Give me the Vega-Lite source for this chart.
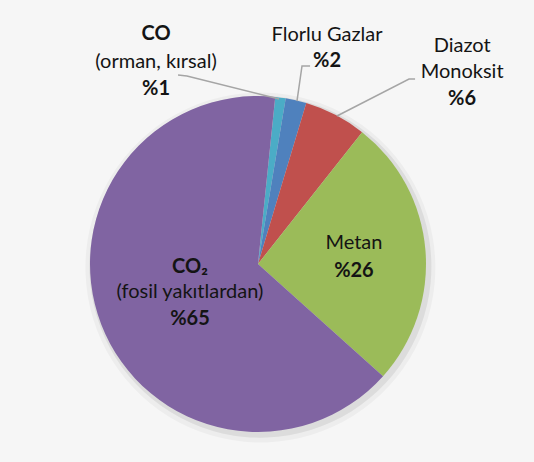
{
  "$schema": "https://vega.github.io/schema/vega-lite/v6.json",
  "width": 534,
  "height": 462,
  "autosize": "none",
  "padding": 0,
  "background": "#f6f6f6",
  "config": {"view": {"stroke": null}},
  "datasets": {
    "slices": [
      {"gaz": "CO (orman, kırsal)", "value": 1, "ord": 1},
      {"gaz": "Florlu Gazlar", "value": 2, "ord": 2},
      {"gaz": "Diazot Monoksit", "value": 6, "ord": 3},
      {"gaz": "Metan", "value": 26, "ord": 4},
      {"gaz": "CO₂ (fosil yakıtlardan)", "value": 65, "ord": 5}
    ],
    "labels": [
      {"text": "CO", "u": -0.607, "v": 1.369, "kind": "head"},
      {"text": "(orman, kırsal)", "u": -0.607, "v": 1.202, "kind": "note"},
      {"text": "%1", "u": -0.607, "v": 1.042, "kind": "head"},
      {"text": "Florlu Gazlar", "u": 0.411, "v": 1.363, "kind": "note"},
      {"text": "%2", "u": 0.411, "v": 1.208, "kind": "head"},
      {"text": "Diazot", "u": 1.215, "v": 1.298, "kind": "note"},
      {"text": "Monoksit", "u": 1.215, "v": 1.143, "kind": "note"},
      {"text": "%6", "u": 1.215, "v": 0.982, "kind": "head"},
      {"text": "Metan", "u": 0.571, "v": 0.125, "kind": "note"},
      {"text": "%26", "u": 0.571, "v": -0.039, "kind": "head"},
      {"text": "CO₂", "u": -0.405, "v": -0.018, "kind": "head"},
      {"text": "(fosil yakıtlardan)", "u": -0.405, "v": -0.167, "kind": "note"},
      {"text": "%65", "u": -0.405, "v": -0.330, "kind": "head"}
    ],
    "leaders": [
      {"gaz": "CO", "u": -0.476, "v": 1.125, "step": 1},
      {"gaz": "CO", "u": -0.423, "v": 1.119, "step": 2},
      {"gaz": "CO", "u": 0.125, "v": 0.982, "step": 3},
      {"gaz": "Florlu", "u": 0.310, "v": 1.179, "step": 1},
      {"gaz": "Florlu", "u": 0.262, "v": 1.179, "step": 2},
      {"gaz": "Florlu", "u": 0.232, "v": 0.970, "step": 3},
      {"gaz": "Diazot", "u": 0.935, "v": 1.101, "step": 1},
      {"gaz": "Diazot", "u": 0.899, "v": 1.101, "step": 2},
      {"gaz": "Diazot", "u": 0.470, "v": 0.881, "step": 3}
    ]
  },
  "encoding": {
    "x": {"type": "quantitative", "scale": {"domain": [-1.5357, 1.6429], "nice": false, "zero": false}, "axis": null},
    "y": {"type": "quantitative", "scale": {"domain": [-1.1786, 1.5714], "nice": false, "zero": false}, "axis": null}
  },
  "layer": [
    {
      "data": {"name": "slices"},
      "transform": [{"aggregate": [{"op": "sum", "field": "value", "as": "value"}]}],
      "mark": {"type": "arc", "outerRadius": 175, "color": "#000000", "opacity": 0.035},
      "encoding": {
        "x": {"datum": 0.005},
        "y": {"datum": -0.02},
        "theta": {"field": "value", "type": "quantitative", "scale": {"range": [0.103, 6.386]}}
      }
    },
    {
      "data": {"name": "slices"},
      "transform": [{"aggregate": [{"op": "sum", "field": "value", "as": "value"}]}],
      "mark": {"type": "arc", "outerRadius": 171, "color": "#000000", "opacity": 0.07},
      "encoding": {
        "x": {"datum": 0.005},
        "y": {"datum": -0.015},
        "theta": {"field": "value", "type": "quantitative", "scale": {"range": [0.103, 6.386]}}
      }
    },
    {
      "data": {"name": "slices"},
      "mark": {"type": "arc", "outerRadius": 168},
      "encoding": {
        "x": {"datum": 0},
        "y": {"datum": 0},
        "theta": {"field": "value", "type": "quantitative", "stack": true, "scale": {"range": [0.103, 6.386]}},
        "order": {"field": "ord", "type": "quantitative"},
        "color": {
          "field": "gaz",
          "type": "nominal",
          "legend": null,
          "scale": {
            "domain": ["CO (orman, kırsal)", "Florlu Gazlar", "Diazot Monoksit", "Metan", "CO₂ (fosil yakıtlardan)"],
            "range": ["#4BACC6", "#4F81BD", "#C0504D", "#9BBB59", "#8064A2"]
          }
        }
      }
    },
    {
      "data": {"name": "leaders"},
      "mark": {"type": "line", "color": "#a5a5a5", "strokeWidth": 1.5},
      "encoding": {
        "x": {"field": "u"},
        "y": {"field": "v"},
        "detail": {"field": "gaz"},
        "order": {"field": "step", "type": "quantitative"}
      }
    },
    {
      "data": {"name": "labels"},
      "transform": [{"filter": "datum.kind === 'note'"}],
      "mark": {"type": "text", "font": "Lato", "fontSize": 20, "color": "#141414", "align": "center", "baseline": "middle"},
      "encoding": {
        "x": {"field": "u"},
        "y": {"field": "v"},
        "text": {"field": "text"}
      }
    },
    {
      "data": {"name": "labels"},
      "transform": [{"filter": "datum.kind === 'head'"}],
      "mark": {"type": "text", "font": "Lato", "fontSize": 20, "fontWeight": "bold", "color": "#141414", "align": "center", "baseline": "middle"},
      "encoding": {
        "x": {"field": "u"},
        "y": {"field": "v"},
        "text": {"field": "text"}
      }
    }
  ]
}
